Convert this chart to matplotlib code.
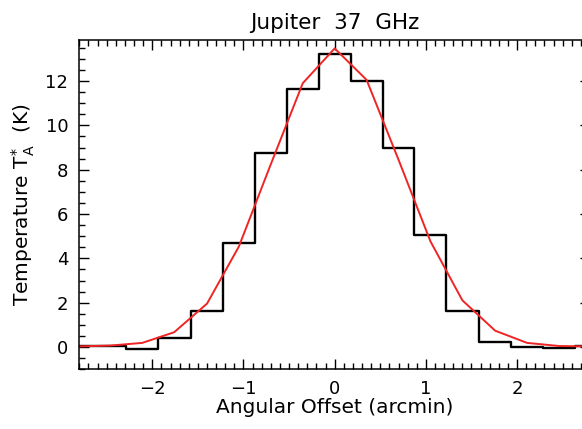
import numpy as np
import matplotlib
matplotlib.use("Agg")
import matplotlib.pyplot as plt
from matplotlib.ticker import MultipleLocator

# Angular offsets (arcmin) of the scan points
offsets = [-2.81, -2.46, -2.11, -1.76, -1.40, -1.05, -0.70, -0.35, 0.0,
           0.35, 0.70, 1.05, 1.40, 1.76, 2.11, 2.46, 2.81]
# Measured antenna temperature (histogram steps)
measured = [0.04, 0.03, -0.08, 0.41, 1.61, 4.69, 8.77, 11.63, 13.20,
            12.02, 8.97, 5.07, 1.61, 0.23, -0.01, -0.05, 0.05]
# Fitted beam profile (red curve)
fitted = [0.03, 0.07, 0.19, 0.67, 1.96, 4.54, 8.25, 11.90, 13.47,
          12.05, 8.45, 4.77, 2.11, 0.74, 0.19, 0.05, 0.03]

plt.rcParams["font.family"] = ["DejaVu Sans"]
plt.rcParams["mathtext.default"] = "regular"

fig = plt.figure(figsize=(5.82, 4.29), dpi=100)
ax = fig.add_axes([0.1363, 0.1392, 0.8775, 0.7676])

ax.step(offsets, measured, where="mid", color="black", linewidth=1.7)
ax.plot(offsets, fitted, color="#f02424", linewidth=1.4)

ax.set_xlim(-2.8, 2.8)
ax.set_ylim(-1.0, 13.85)
ax.xaxis.set_major_locator(MultipleLocator(1))
ax.xaxis.set_minor_locator(MultipleLocator(0.1))
ax.yaxis.set_major_locator(MultipleLocator(2))
ax.yaxis.set_minor_locator(MultipleLocator(0.5))
ax.tick_params(which="both", direction="in", top=True, right=True,
               width=1.0, labelsize=13, pad=8)
ax.tick_params(which="major", length=7.5)
ax.tick_params(which="minor", length=4)
for s in ax.spines.values():
    s.set_linewidth(1.1)

ax.set_title("Jupiter  37  GHz", fontsize=15.5, pad=8)
ax.set_xlabel("Angular Offset (arcmin)", fontsize=14.5, labelpad=0)
ax.set_ylabel(r"Temperature T$_{A}^{*}$  (K)", fontsize=14.5, labelpad=6)

fig.savefig("out.png", dpi=100)
